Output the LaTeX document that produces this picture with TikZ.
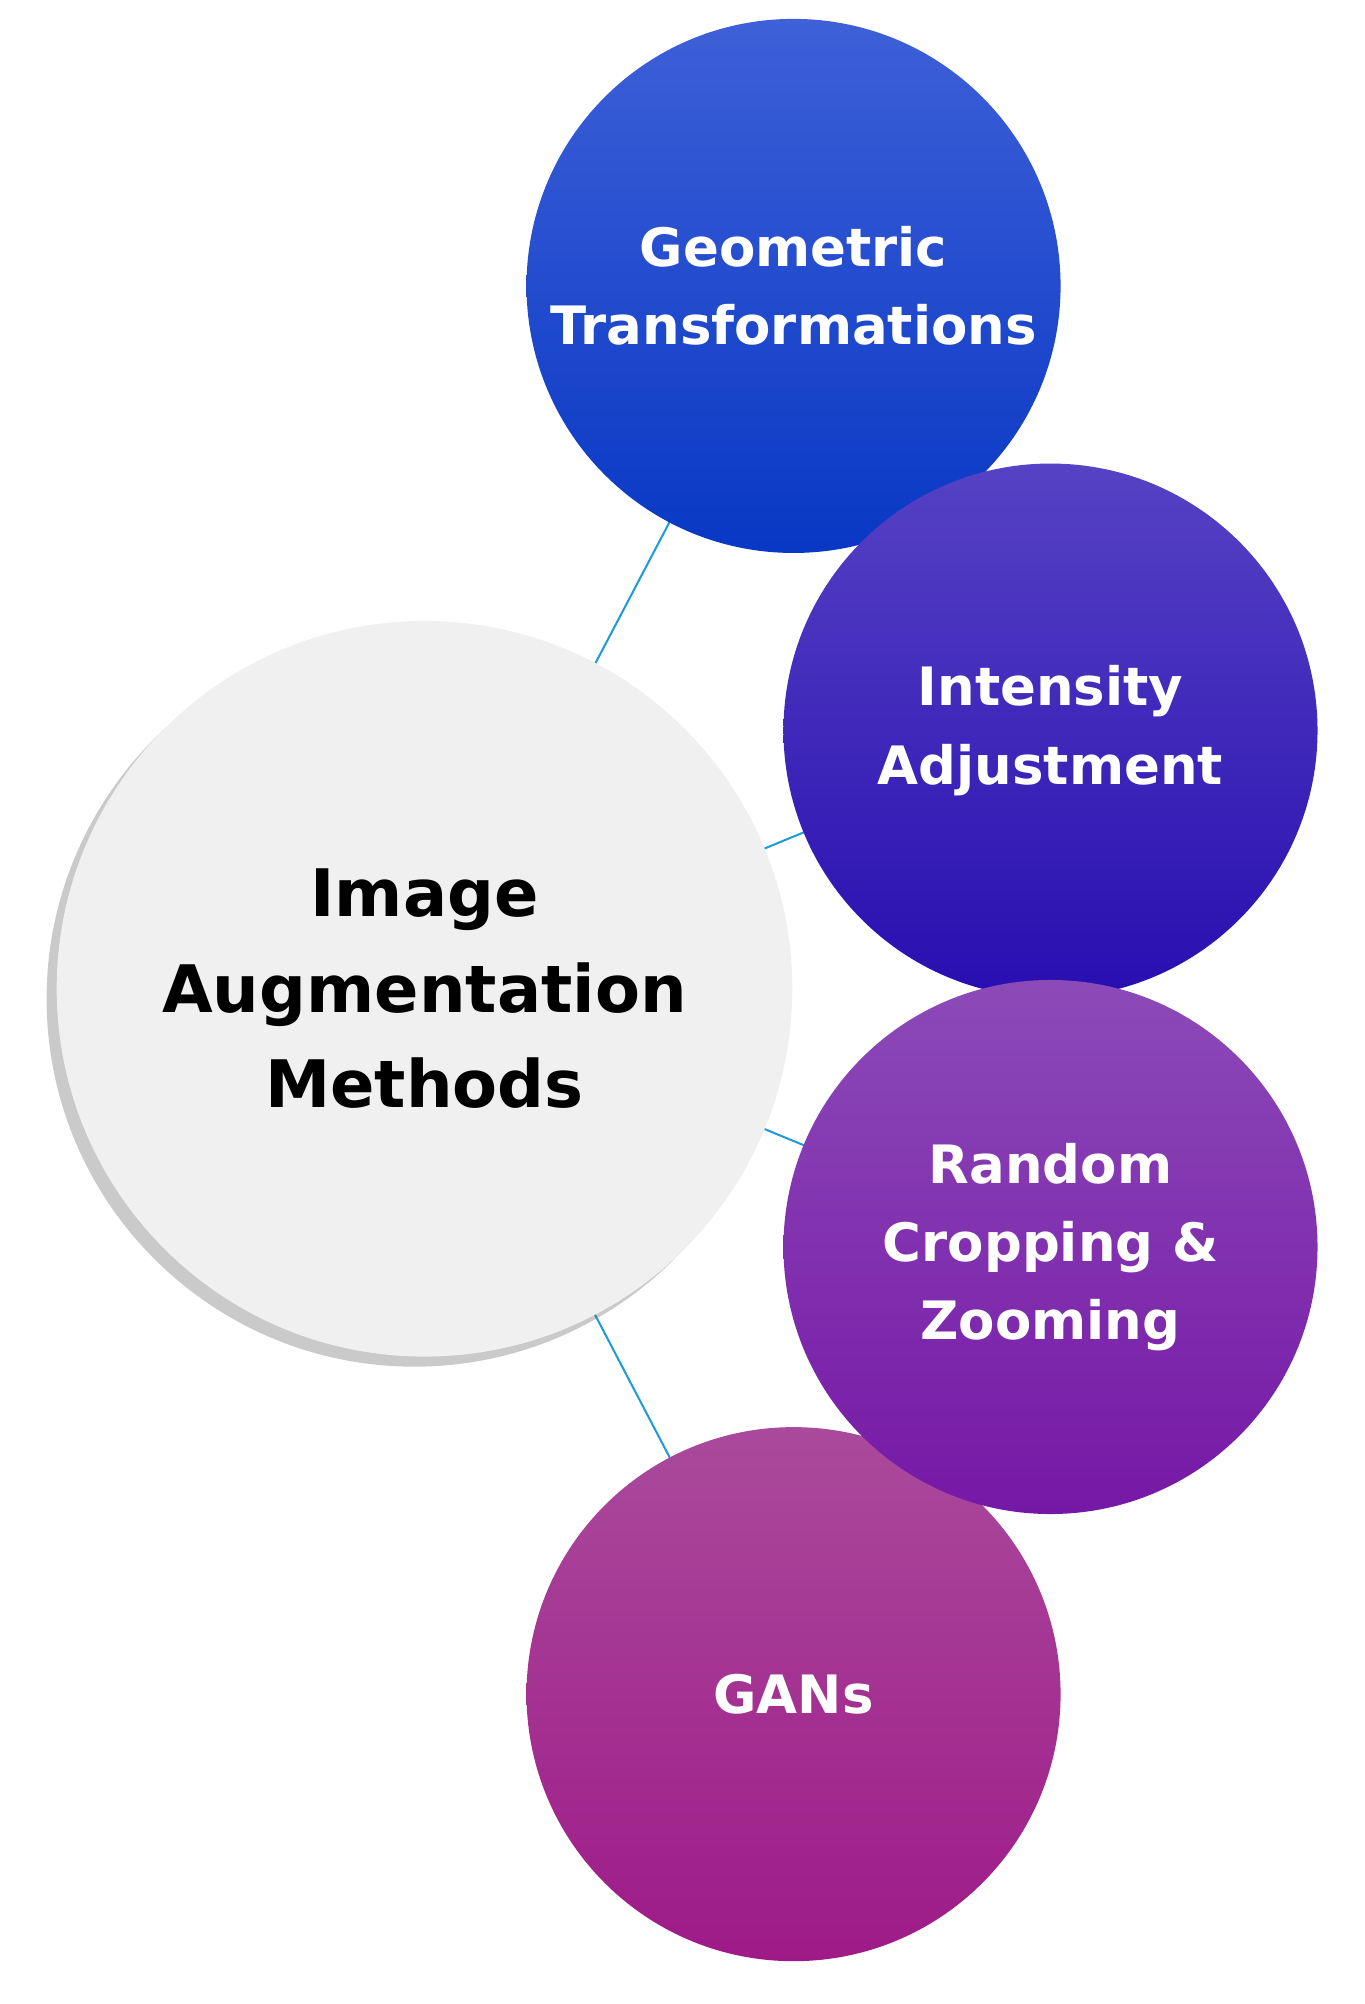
\documentclass[tikz,border=0pt]{standalone}
\usepackage{fontspec}
\setmainfont{DejaVu Sans}
\usetikzlibrary{shadows}
\definecolor{linec}{HTML}{1E9AD6}
\begin{document}
\begin{tikzpicture}[x=0.5pt,y=-0.5pt,
  sat/.style={circle,minimum size=212pt,inner sep=0pt,align=center,text=white,
    font=\bfseries\fontsize{21}{31}\selectfont},
  conn/.style={draw=linec,line width=0.8pt}]
\useasboundingbox (0,0) rectangle (1083,1591);
\coordinate (mc) at (337,785);
\coordinate (cg) at (630,227);
\coordinate (ci) at (834,580);
\coordinate (cr) at (834,990);
\coordinate (cn) at (630,1345);
\draw[conn] (mc) -- (cg);
\draw[conn] (mc) -- (ci);
\draw[conn] (mc) -- (cr);
\draw[conn] (mc) -- (cn);
\node[circle,minimum size=292pt,fill={rgb,255:red,240;green,240;blue,240},inner sep=0pt,
  drop shadow={shadow xshift=-4pt,shadow yshift=-4pt,opacity=.35,fill=black!60},
  align=center,font=\bfseries\fontsize{26}{38}\selectfont] (main) at (mc) {Image\\Augmentation\\Methods};
\node[sat,top color={rgb,255:red,62;green,96;blue,216},bottom color={rgb,255:red,8;green,56;blue,196}] (geo) at (cg) {Geometric\\Transformations};
\node[sat,top color={rgb,255:red,86;green,66;blue,196},bottom color={rgb,255:red,40;green,14;blue,176}] (int) at (ci) {Intensity\\Adjustment};
\node[sat,top color={rgb,255:red,170;green,74;blue,156},bottom color={rgb,255:red,158;green,26;blue,136}] (gan) at (cn) {GANs};
\node[sat,top color={rgb,255:red,140;green,74;blue,184},bottom color={rgb,255:red,118;green,24;blue,166}] (ran) at (cr) {Random\\Cropping \&\\Zooming};
\end{tikzpicture}
\end{document}
